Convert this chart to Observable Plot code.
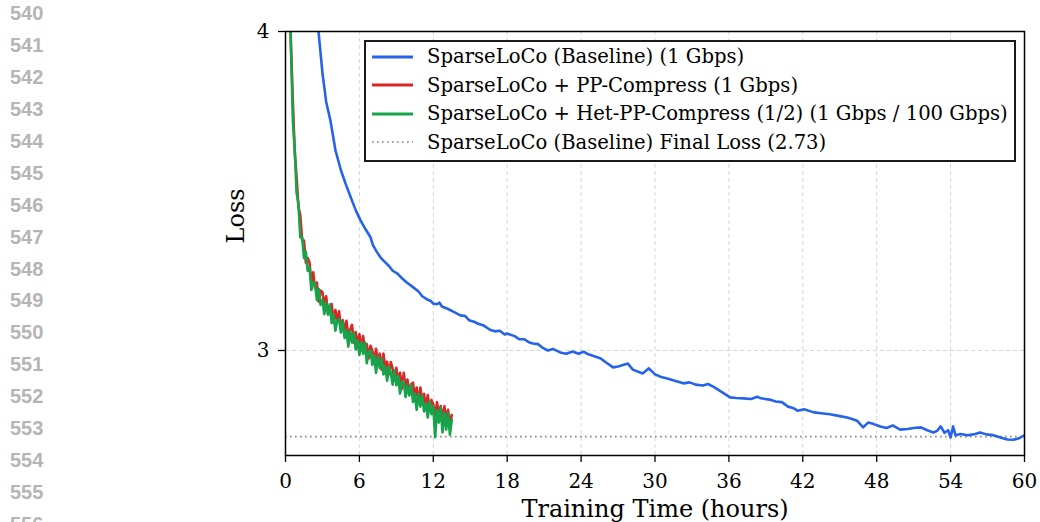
<!DOCTYPE html>
<html>
<head>
<meta charset="utf-8">
<script src="https://cdn.jsdelivr.net/npm/d3@7"></script>
<script src="https://cdn.jsdelivr.net/npm/@observablehq/plot@0.6"></script>
<style>
  html, body { margin: 0; padding: 0; background: #fff; }
  #wrap { position: relative; width: 1040px; height: 522px; overflow: hidden; }
  #lines { position: absolute; left: 10px; top: -2px; font-family: "Liberation Sans", Arial, sans-serif; font-weight: bold; font-size: 20px; line-height: 31.93px; color: #b5b5b5; }
  #legend { position: absolute; left: 364px; top: 40px; width: 652px; height: 122px; box-sizing: border-box; border: 2px solid #1a1a1a; background: #fff; padding-top: 0.5px; font-family: "DejaVu Serif", serif; font-size: 19.6px; color: #000; }
  .row { height: 28.5px; display: flex; align-items: center; }
  .row svg { margin-left: 6px; margin-right: 14px; flex: none; }
</style>
</head>
<body>
<div id="wrap">
  <div id="chart"></div>
  <div id="lines"></div>
  <div id="legend"></div>
</div>
<script>
// ---- data ----
const lineNumbers = [540,541,542,543,544,545,546,547,548,549,550,551,552,553,554,555,556];
const xTicks = [0,6,12,18,24,30,36,42,48,54,60];
const yTicks = [3,4];
const xLabel = "Training Time (hours)";
const yLabel = "Loss";
const finalLoss = 2.73;
const seriesNames = [
  "SparseLoCo (Baseline) (1 Gbps)",
  "SparseLoCo + PP-Compress (1 Gbps)",
  "SparseLoCo + Het-PP-Compress (1/2) (1 Gbps / 100 Gbps)",
  "SparseLoCo (Baseline) Final Loss (2.73)"
];
const seriesColors = ["#2563eb", "#dc2626", "#16a34a", "#8c8c8c"];

const baselineHours = [
  2.3,2.68,3.0,3.3,3.65,4.06,4.5,4.87,5.3,5.7,
  6.09,6.5,6.9,7.1,7.4,7.71,8.0,8.4,8.7,9.09,
  9.5,9.8,10.4,10.8,11.1,11.5,11.8,12.0,12.3,12.5,
  12.7,13.2,13.7,14.2,14.6,14.9,15.3,15.7,16.1,16.6,
  17.0,17.4,17.8,18.0,18.6,19.0,19.4,19.8,20.1,20.5,
  20.9,21.3,21.7,22.3,22.8,23.3,23.8,24.2,24.6,25.0,
  25.6,26.0,26.6,27.0,27.8,28.2,29.0,29.5,30.0,30.5,
  31.0,31.6,32.3,32.8,33.3,33.9,34.3,34.8,35.4,36.1,
  36.6,37.2,37.8,38.3,38.6,39.3,39.8,40.3,40.8,41.2,
  41.6,42.1,42.9,43.5,44.2,44.9,45.6,46.0,46.4,46.9,
  47.3,47.7,48.3,48.8,49.3,49.9,50.5,51.0,51.6,52.1,
  52.6,52.9,53.2,53.5,53.8,54.0,54.2,54.4,54.8,55.4,
  56.0,56.4,56.9,57.4,58.05,58.6,59.1,59.5,60.0
];
const baselineLoss = [
  4.25,4.0,3.87,3.78,3.72,3.627,3.565,3.524,3.48,3.44,
  3.408,3.38,3.355,3.33,3.31,3.292,3.28,3.265,3.25,3.241,
  3.225,3.215,3.197,3.185,3.17,3.16,3.155,3.147,3.145,3.15,
  3.138,3.13,3.12,3.11,3.108,3.095,3.09,3.083,3.078,3.065,
  3.06,3.062,3.05,3.053,3.045,3.035,3.035,3.025,3.022,3.02,
  3.008,3.0,3.005,2.994,2.99,2.997,2.99,2.996,2.988,2.983,
  2.975,2.963,2.947,2.95,2.959,2.94,2.928,2.944,2.925,2.917,
  2.912,2.905,2.897,2.9,2.893,2.89,2.895,2.885,2.87,2.853,
  2.851,2.85,2.848,2.855,2.85,2.846,2.84,2.838,2.824,2.82,
  2.811,2.816,2.806,2.803,2.8,2.795,2.79,2.785,2.78,2.759,
  2.774,2.77,2.762,2.757,2.765,2.752,2.754,2.757,2.759,2.75,
  2.743,2.748,2.762,2.742,2.75,2.727,2.762,2.734,2.738,2.734,
  2.738,2.743,2.737,2.735,2.727,2.721,2.72,2.724,2.734
];

const ppHours = [
  0.15,0.3,0.45,0.6,0.75,0.9,1.05,1.2,1.35,1.5,
  1.65,1.8,1.95,2.1,2.25,2.4,2.55,2.7,2.85,3.0,
  3.15,3.3,3.45,3.6,3.75,3.9,4.05,4.2,4.35,4.5,
  4.65,4.8,4.95,5.1,5.25,5.4,5.55,5.7,5.85,6.0,
  6.15,6.3,6.45,6.6,6.75,6.9,7.05,7.2,7.35,7.5,
  7.65,7.8,7.95,8.1,8.25,8.4,8.55,8.7,8.85,9.0,
  9.15,9.3,9.45,9.6,9.75,9.9,10.05,10.2,10.35,10.5,
  10.65,10.8,10.95,11.1,11.25,11.4,11.55,11.7,11.85,12.0,
  12.15,12.3,12.45,12.6,12.75,12.9,13.05,13.2,13.35,13.5
];
const ppCompressLoss = [
  4.465,4.165,3.95,3.78,3.62,3.545,3.45,3.425,3.345,3.345,
  3.275,3.29,3.275,3.215,3.245,3.195,3.213,3.153,3.188,3.183,
  3.139,3.17,3.117,3.139,3.146,3.089,3.127,3.09,3.123,3.066,
  3.095,3.059,3.093,3.042,3.066,3.08,3.024,3.058,3.017,3.051,
  3.001,3.045,3.0,3.02,2.975,3.015,3.0,2.965,3.005,2.96,
  2.99,2.94,2.99,2.945,2.965,2.925,2.964,2.943,2.907,2.946,
  2.9,2.93,2.88,2.93,2.884,2.909,2.864,2.894,2.899,2.854,
  2.884,2.834,2.884,2.839,2.864,2.819,2.86,2.815,2.845,2.831,
  2.792,2.838,2.799,2.826,2.783,2.825,2.782,2.814,2.771,2.798
];
const hetPpCompressLoss = [
  4.45,4.15,3.94,3.72,3.63,3.495,3.46,3.355,3.355,3.29,
  3.31,3.25,3.26,3.19,3.215,3.21,3.158,3.193,3.143,3.158,
  3.114,3.15,3.112,3.144,3.086,3.114,3.062,3.095,3.098,3.056,
  3.09,3.039,3.063,3.012,3.061,3.025,3.054,3.003,3.032,2.986,
  3.026,2.99,3.025,2.96,2.995,3.0,2.955,2.985,2.93,2.98,
  2.945,2.975,2.925,2.95,2.905,2.95,2.929,2.893,2.937,2.891,
  2.92,2.865,2.9,2.905,2.854,2.889,2.859,2.894,2.839,2.864,
  2.814,2.864,2.824,2.859,2.809,2.834,2.79,2.84,2.80,2.826,
  2.728,2.813,2.774,2.821,2.743,2.805,2.752,2.804,2.736,2.783
];

// ---- tables ----
const baseline = baselineHours.map((t, i) => ({t, loss: baselineLoss[i]}));
const ppCompress = ppHours.map((t, i) => ({t, loss: ppCompressLoss[i]}));
const hetPpCompress = ppHours.map((t, i) => ({t, loss: hetPpCompressLoss[i]}));

const font = "'DejaVu Serif', serif";

const chart = Plot.plot({
  width: 1040,
  height: 522,
  marginLeft: 285,
  marginRight: 16,
  marginTop: 31,
  marginBottom: 67,
  style: {fontFamily: font, fontSize: "20px", color: "#000", background: "transparent"},
  x: {domain: [0, 60]},
  y: {domain: [2.6708, 4]},
  marks: [
    Plot.gridX(xTicks, {stroke: "#b0b0b0", strokeOpacity: 0.5, strokeDasharray: "4,3"}),
    Plot.gridY([3], {stroke: "#b0b0b0", strokeOpacity: 0.5, strokeDasharray: "4,3"}),
    Plot.ruleY([finalLoss], {stroke: seriesColors[3], strokeWidth: 1.7, strokeDasharray: "1.7,3.3"}),
    Plot.line(baseline, {x: "t", y: "loss", stroke: seriesColors[0], strokeWidth: 2.6, clip: true}),
    Plot.line(ppCompress, {x: "t", y: "loss", stroke: seriesColors[1], strokeWidth: 2.6, clip: true}),
    Plot.line(hetPpCompress, {x: "t", y: "loss", stroke: seriesColors[2], strokeWidth: 2.6, clip: true}),
    Plot.frame({stroke: "#000", strokeWidth: 1.5}),
    Plot.axisX(xTicks, {tickSize: 7, tickPadding: 11, fontSize: 20, strokeWidth: 1.3, tickFormat: d3.format("d"), label: null}),
    Plot.axisY(yTicks, {tickSize: 7, tickPadding: 9, fontSize: 20, strokeWidth: 1.3, tickFormat: d3.format("d"), label: null}),
    Plot.text([xLabel], {frameAnchor: "bottom", dy: 61, lineAnchor: "bottom", fontSize: 24}),
    Plot.text([yLabel], {frameAnchor: "left", dx: -49, rotate: -90, fontSize: 24})
  ]
});
document.getElementById("chart").appendChild(chart);

// line numbers
document.getElementById("lines").innerHTML = lineNumbers.map(n => `<div>${n}</div>`).join("");

// legend
const legend = document.getElementById("legend");
seriesNames.forEach((name, i) => {
  const row = document.createElement("div");
  row.className = "row";
  const dotted = i === 3;
  row.innerHTML = `<svg width="41" height="8"><line x1="0" x2="41" y1="4" y2="4" stroke="${seriesColors[i]}" stroke-width="${dotted ? 1.7 : 2.8}" ${dotted ? 'stroke-dasharray="1.7,3.3"' : ''}/></svg><span>${name}</span>`;
  legend.appendChild(row);
});
</script>
</body>
</html>
